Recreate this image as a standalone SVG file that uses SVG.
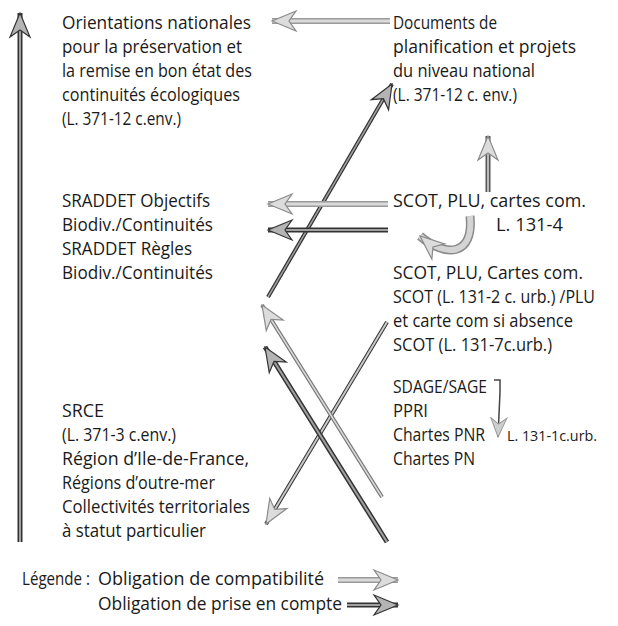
<svg xmlns="http://www.w3.org/2000/svg" width="618" height="626" viewBox="0 0 618 626">
<defs>
<style>
text{font-family:"Open Sans","Noto Sans",sans-serif;font-size:19px;fill:#1a1a1a}
.small{font-size:15px}
.leg{font-size:18px}
.po{fill:none;stroke:#333;stroke-width:5}
.pi{fill:none;stroke:#a0a0a0;stroke-width:2}
.co{fill:none;stroke:#9a9a9a;stroke-width:6}
.ci{fill:none;stroke:#dadada;stroke-width:3}
.thin{fill:none;stroke:#444;stroke-width:1.5}
</style>
<marker id="hp" viewBox="-26 -12 28 24" refX="0" refY="0" markerWidth="28" markerHeight="24" orient="auto" markerUnits="userSpaceOnUse">
<path d="M0,0 L-24,-10 L-17,0 L-24,10 Z" fill="#b4b4b4" stroke="#333" stroke-width="1.2"/>
</marker>
<marker id="hc" viewBox="-26 -12 28 24" refX="0" refY="0" markerWidth="28" markerHeight="24" orient="auto" markerUnits="userSpaceOnUse">
<path d="M0,0 L-24,-10 L-17,0 L-24,10 Z" fill="#dcdcdc" stroke="#8a8a8a" stroke-width="1.2"/>
</marker>
<marker id="hs" viewBox="-20 -10 22 20" refX="0" refY="0" markerWidth="22" markerHeight="20" orient="auto" markerUnits="userSpaceOnUse">
<path d="M0,0 L-19,-8 L-13,0 L-19,8 Z" fill="#cfcfcf" stroke="#999" stroke-width="1"/>
</marker>
</defs>
<rect width="618" height="626" fill="#fff"/>

<g id="connectors">
<!-- left vertical hierarchy arrow -->
<path class="po" d="M20,542 L20,13"/><path class="pi" d="M20,542 L20,13" marker-end="url(#hp)"/>
<!-- top: documents -> orientations (compatibilité) -->
<path class="co" d="M390,21 L272,21"/><path class="ci" d="M390,21 L272,21" marker-end="url(#hc)"/>
<!-- long diagonal SRADDET -> documents -->
<path class="po" style="stroke-width:4" d="M268,297 L392,84"/><path class="pi" style="stroke-width:1.5" d="M268,297 L392,84" marker-end="url(#hp)"/>
<!-- SCOT -> SRADDET -->
<path class="co" d="M388,204 L268,204"/><path class="ci" d="M388,204 L268,204" marker-end="url(#hc)"/>
<path class="po" d="M388,230 L268,230"/><path class="pi" d="M388,230 L268,230" marker-end="url(#hp)"/>
<!-- SCOT -> documents (up) -->
<path class="po" style="stroke-width:5;stroke:#555" d="M488,192 L488,136"/><path class="ci" style="stroke-width:2;stroke:#bbb" d="M488,192 L488,136" marker-end="url(#hc)"/>
<!-- U-turn L.131-4 -->
<path d="M470,216 C474,256 446,258 420,236" fill="none" stroke="#8a8a8a" stroke-width="9"/>
<path d="M470,216 C474,256 446,258 420,236" fill="none" stroke="#d4d4d4" stroke-width="6" marker-end="url(#hc)"/>
<!-- X crossing -->
<path class="po" style="stroke-width:4" d="M387,322 L266,524"/><path class="pi" style="stroke:#c8c8c8;stroke-width:2" d="M387,322 L266,524" marker-end="url(#hc)"/>
<path class="co" style="stroke-width:4;stroke:#777" d="M382,497 L262,305"/><path class="ci" style="stroke-width:1.5" d="M382,497 L262,305" marker-end="url(#hc)"/>
<path class="po" d="M387,542 L265,347"/><path class="pi" d="M387,542 L265,347" marker-end="url(#hp)"/>
<!-- SDAGE bracket and arrow -->
<path class="thin" d="M494,380 L500,380 L500,392"/>
<path class="thin" d="M500,392 L498,437" marker-end="url(#hs)"/>
<!-- legend arrows -->
<path class="co" d="M338,580 L398,580"/><path class="ci" d="M338,580 L398,580" marker-end="url(#hc)"/>
<path class="po" d="M347,605 L398,605"/><path class="pi" d="M347,605 L398,605" marker-end="url(#hp)"/>
</g>

<g id="orientations">
<text x="62" y="29" textLength="189" lengthAdjust="spacingAndGlyphs">Orientations nationales</text>
<text x="62" y="53" textLength="180" lengthAdjust="spacingAndGlyphs">pour la préservation et</text>
<text x="62" y="77" textLength="190" lengthAdjust="spacingAndGlyphs">la remise en bon état des</text>
<text x="62" y="101" textLength="178" lengthAdjust="spacingAndGlyphs">continuités écologiques</text>
<text x="62" y="125" textLength="119" lengthAdjust="spacingAndGlyphs">(L. 371-12 c.env.)</text>
</g>

<g id="documents">
<text x="393" y="29" textLength="104" lengthAdjust="spacingAndGlyphs">Documents de</text>
<text x="393" y="53" textLength="183" lengthAdjust="spacingAndGlyphs">planification et projets</text>
<text x="393" y="77" textLength="142" lengthAdjust="spacingAndGlyphs">du niveau national</text>
<text x="393" y="101" textLength="124" lengthAdjust="spacingAndGlyphs">(L. 371-12 c. env.)</text>
</g>

<g id="sraddet">
<text x="62" y="207" textLength="148" lengthAdjust="spacingAndGlyphs">SRADDET Objectifs</text>
<text x="62" y="231" textLength="151" lengthAdjust="spacingAndGlyphs">Biodiv./Continuités</text>
<text x="62" y="255" textLength="130" lengthAdjust="spacingAndGlyphs">SRADDET Règles</text>
<text x="62" y="279" textLength="151" lengthAdjust="spacingAndGlyphs">Biodiv./Continuités</text>
</g>

<g id="scot1">
<text x="393" y="207" textLength="193" lengthAdjust="spacingAndGlyphs">SCOT, PLU, cartes com.</text>
<text x="496" y="231" textLength="67" lengthAdjust="spacingAndGlyphs">L. 131-4</text>
</g>

<g id="scot2">
<text x="393" y="279" textLength="190" lengthAdjust="spacingAndGlyphs">SCOT, PLU, Cartes com.</text>
<text x="393" y="303" style="font-size:17.5px" textLength="202" lengthAdjust="spacingAndGlyphs">SCOT (L. 131-2 c. urb.) /PLU</text>
<text x="393" y="327" textLength="180" lengthAdjust="spacingAndGlyphs">et carte com si absence</text>
<text x="393" y="351" textLength="159" lengthAdjust="spacingAndGlyphs">SCOT (L. 131-7c.urb.)</text>
</g>

<g id="sdage">
<text x="393" y="393" textLength="94" lengthAdjust="spacingAndGlyphs">SDAGE/SAGE</text>
<text x="393" y="417" textLength="35" lengthAdjust="spacingAndGlyphs">PPRI</text>
<text x="393" y="441" textLength="92" lengthAdjust="spacingAndGlyphs">Chartes PNR</text>
<text class="small" x="507" y="441" textLength="90" lengthAdjust="spacingAndGlyphs">L. 131-1c.urb.</text>
<text x="393" y="465" textLength="82" lengthAdjust="spacingAndGlyphs">Chartes PN</text>
</g>

<g id="srce">
<text x="62" y="417" textLength="42" lengthAdjust="spacingAndGlyphs">SRCE</text>
<text x="62" y="441" textLength="114" lengthAdjust="spacingAndGlyphs">(L. 371-3 c.env.)</text>
<text x="62" y="465" textLength="187" lengthAdjust="spacingAndGlyphs">Région d’Ile-de-France,</text>
<text x="62" y="489" textLength="153" lengthAdjust="spacingAndGlyphs">Régions d’outre-mer</text>
<text x="62" y="513" textLength="188" lengthAdjust="spacingAndGlyphs">Collectivités territoriales</text>
<text x="62" y="537" textLength="144" lengthAdjust="spacingAndGlyphs">à statut particulier</text>
</g>

<g id="legend">
<text class="leg" x="22" y="585" textLength="68" lengthAdjust="spacingAndGlyphs">Légende :</text>
<text class="leg" x="98" y="585" textLength="226" lengthAdjust="spacingAndGlyphs">Obligation de compatibilité</text>
<text class="leg" x="98" y="610" textLength="244" lengthAdjust="spacingAndGlyphs">Obligation de prise en compte</text>
</g>
</svg>
